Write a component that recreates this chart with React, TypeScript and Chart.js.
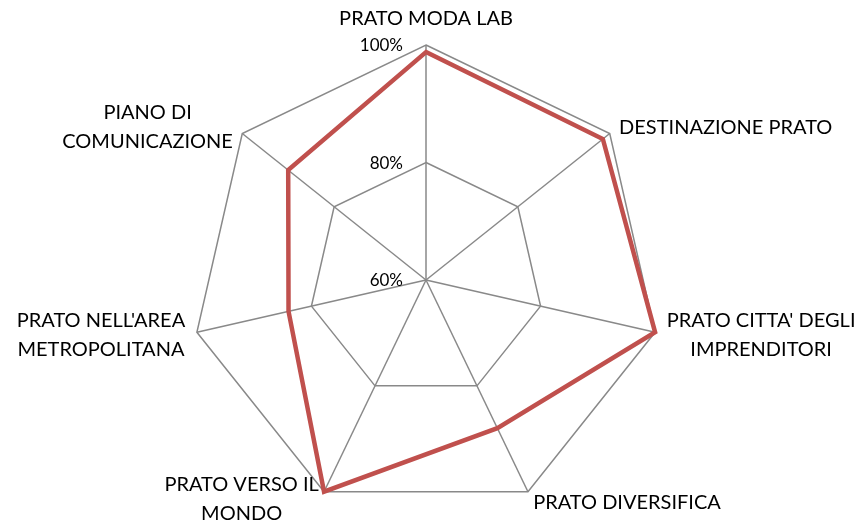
import React, { useEffect, useRef } from "react";
import { Chart, registerables } from "chart.js";

Chart.register(...registerables);

// ---- Data ----
const categories: string[][] = [
  ["PRATO MODA LAB"],
  ["DESTINAZIONE PRATO"],
  ["PRATO CITTA' DEGLI", "IMPRENDITORI"],
  ["PRATO DIVERSIFICA"],
  ["PRATO VERSO IL", "MONDO"],
  ["PRATO NELL'AREA", "METROPOLITANA"],
  ["PIANO DI", "COMUNICAZIONE"],
];
const values = [98.8, 98.5, 100, 88, 100, 84, 90];
const tickValues = [60, 80, 100];
const tickLabels = ["60%", "80%", "100%"];

// ---- Styles ----
const FONT = "Lato, 'Open Sans', sans-serif";
const LABEL_SIZE = 20;
const TICK_SIZE = 17;
const LINE_H = 29;
const GRID_COLOR = "#898989";
const SERIES_COLOR = "#C0504D";

const labelPlugin = {
  id: "customLabels",
  afterDraw(chart: any) {
    const scale = chart.scales.r;
    const ctx: CanvasRenderingContext2D = chart.ctx;
    ctx.save();
    ctx.fillStyle = "#000";
    ctx.textBaseline = "alphabetic";

    // tick labels
    ctx.font = `${TICK_SIZE}px ${FONT}`;
    ctx.textAlign = "right";
    tickValues.forEach((v, i) => {
      const d = scale.getDistanceFromCenterForValue(v);
      const y = scale.yCenter - d;
      ctx.fillText(tickLabels[i], scale.xCenter - 23, y + 6);
    });

    // point labels
    ctx.font = `${LABEL_SIZE}px ${FONT}`;
    ctx.textAlign = "center";
    const capH = LABEL_SIZE * 0.72;
    const n = categories.length;
    categories.forEach((lines, i) => {
      const p = scale.getPointPosition(i, scale.drawingArea);
      const theta = (2 * Math.PI * i) / n;
      const s = Math.sin(theta);
      const c = Math.cos(theta);
      const w = Math.max(...lines.map((l) => ctx.measureText(l).width));
      const blockH = capH + (lines.length - 1) * LINE_H;
      let cx: number;
      let top: number;
      if (Math.abs(s) < 0.1) {
        cx = p.x;
        top = c > 0 ? p.y - 20 - blockH : p.y + 20;
      } else {
        const gap = 12 * Math.abs(s);
        cx = s > 0 ? p.x + gap + w / 2 : p.x - gap - w / 2;
        const centerY = p.y - 11 * c;
        top = centerY - blockH / 2;
      }
      top = Math.min(top, chart.height - 6 - blockH);
      lines.forEach((l, k) => ctx.fillText(l, cx, top + capH + k * LINE_H));
    });
    ctx.restore();
  },
};

export default function App() {
  const ref = useRef<HTMLCanvasElement | null>(null);
  useEffect(() => {
    if (!ref.current) return;
    const chart = new Chart(ref.current, {
      type: "radar",
      data: {
        labels: categories.map((c) => c.join(" ")),
        datasets: [
          {
            data: values,
            borderColor: SERIES_COLOR,
            borderWidth: 4.5,
            backgroundColor: "transparent",
            fill: false,
            pointRadius: 0,
            pointHoverRadius: 0,
            tension: 0,
          },
        ],
      },
      options: {
        responsive: false,
        animation: false,
        layout: { padding: { left: 191, right: 205, top: 45, bottom: 11 } },
        plugins: { legend: { display: false }, tooltip: { enabled: false } },
        scales: {
          r: {
            min: 60,
            max: 100,
            ticks: { stepSize: 20, display: false },
            pointLabels: { display: false },
            grid: { color: GRID_COLOR, lineWidth: 1.5, circular: false },
            angleLines: { color: GRID_COLOR, lineWidth: 1.5 },
          },
        },
      },
      plugins: [labelPlugin],
    });
    return () => chart.destroy();
  }, []);
  return (
    <div style={{ position: "absolute", left: 0, top: 0, width: 866, height: 526, background: "#fff" }}>
      <canvas ref={ref} width={866} height={526} />
    </div>
  );
}
